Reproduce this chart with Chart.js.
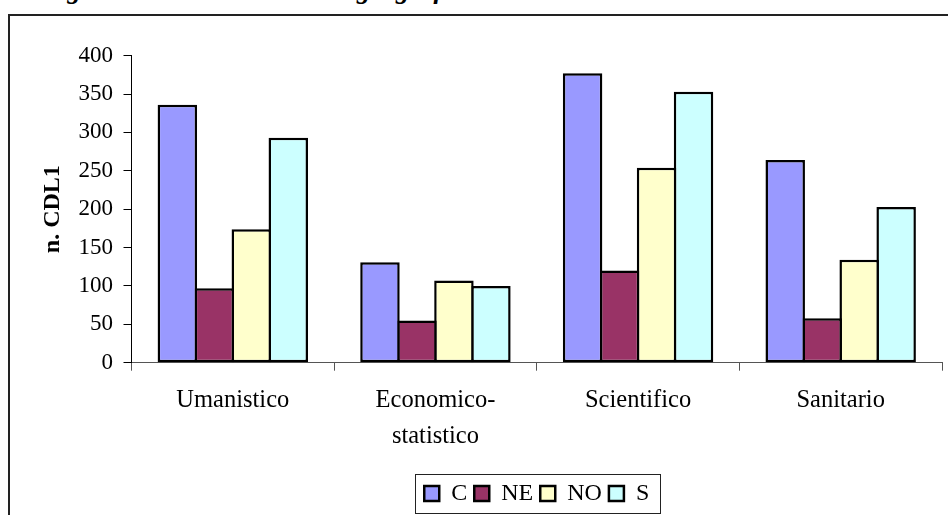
<!DOCTYPE html>
<html>
<head>
<meta charset="utf-8">
<script src="https://cdn.jsdelivr.net/npm/chart.js@4/dist/chart.umd.min.js"></script>
<style>
  html, body { margin: 0; padding: 0; background: #fff; }
  body { position: relative; width: 948px; height: 515px; overflow: hidden; }
  #caption {
    position: absolute; left: 42px; top: -26px;
    font: bold italic 27px 'Liberation Serif', 'Times New Roman', serif;
    line-height: 30px; white-space: nowrap; color: #000;
  }
  #frame {
    position: absolute; left: 8px; top: 14px;
    width: 1070px; height: 530px;
    border: 2px solid #222; box-sizing: border-box; background: #fff;
  }
  #frame canvas { display: block; }
</style>
</head>
<body>
<div id="caption">Figura 4 – CDL1 nelle aree geografiche</div>
<div id="frame"><canvas id="chart" width="1066" height="526"></canvas></div>
<script>
// Areas of study (x categories)
const categories = ['Umanistico', ['Economico-', 'statistico'], 'Scientifico', 'Sanitario'];

// Number of CDL1 per geographic area
const seriesNames = ['C', 'NE', 'NO', 'S'];
const valuesC  = [336, 131, 377, 264];
const valuesNE = [97, 55, 120, 58];
const valuesNO = [174, 107, 254, 134];
const valuesS  = [293, 100, 353, 203];

// Y axis
const yMin = 0, yMax = 400, yStep = 50;
const yTitle = 'n. CDL1';

const fills = ['#9999FF', '#993366', '#FFFFCC', '#CCFFFF'];
const serif = "'Liberation Serif', 'Times New Roman', serif";

// Bars in a group share their outlines: each bar is widened by one border
// width so the neighbouring outlines overlap into a single line.
const BORDER = 2.5;
const allValues = [valuesC, valuesNE, valuesNO, valuesS];
const datasets = seriesNames.map((name, i) => ({
  label: name,
  data: allValues[i],
  backgroundColor: fills[i],
  borderColor: '#000',
  borderWidth: BORDER,
  borderSkipped: false,
  categoryPercentage: 0.73,
  barPercentage: 1.0676
}));

// Thin box drawn around the legend entries
const legendFrame = {
  id: 'legendFrame',
  afterDraw(chart) {
    const hb = chart.legend && chart.legend.legendHitBoxes;
    if (!hb || !hb.length) return;
    const last = hb[hb.length - 1];
    const l = Math.round(hb[0].left - 9) + 0.5;
    const r = Math.round(last.left + last.width + 11) + 0.5;
    const t = Math.round(hb[0].top - 7.5) + 0.5;
    const b = Math.round(hb[0].top + hb[0].height + 7.5) + 0.5;
    const ctx = chart.ctx;
    ctx.save();
    ctx.strokeStyle = '#222';
    ctx.lineWidth = 1;
    ctx.strokeRect(l, t, r - l, b - t);
    ctx.restore();
  }
};

new Chart(document.getElementById('chart'), {
  type: 'bar',
  data: { labels: categories, datasets },
  plugins: [legendFrame],
  options: {
    responsive: false,
    animation: false,
    layout: { padding: { top: 39.7, left: 0, right: 134, bottom: 26.5 } },
    plugins: {
      tooltip: { enabled: false },
      legend: {
        position: 'bottom',
        fullSize: false,
        labels: {
          color: '#000',
          font: { family: serif, size: 24 },
          boxWidth: 15,
          boxHeight: 15,
          padding: 7
        }
      }
    },
    scales: {
      x: {
        afterFit(scale) { scale.height = 111.8; },
        grid: {
          display: true, offset: true, drawOnChartArea: false,
          drawTicks: true, tickLength: 8, color: '#555', lineWidth: 1
        },
        border: { display: true, color: '#555', width: 1 },
        ticks: {
          color: '#000', padding: 11,
          maxRotation: 0, autoSkip: false,
          font: { family: serif, size: 24.5, lineHeight: 1.5 }
        }
      },
      y: {
        min: yMin, max: yMax,
        afterFit(scale) { scale.width = 121.5; },
        grid: {
          display: true, drawOnChartArea: false,
          drawTicks: true, tickLength: 8, color: '#000', lineWidth: 1
        },
        border: { display: true, color: '#000', width: 1 },
        ticks: {
          stepSize: yStep, color: '#000', padding: 10.5,
          font: { family: serif, size: 23 }
        },
        title: {
          display: true, text: yTitle, color: '#000',
          padding: { top: 28.6, bottom: 0 },
          font: { family: serif, size: 24, weight: 'bold' }
        }
      }
    }
  }
});
</script>
</body>
</html>
